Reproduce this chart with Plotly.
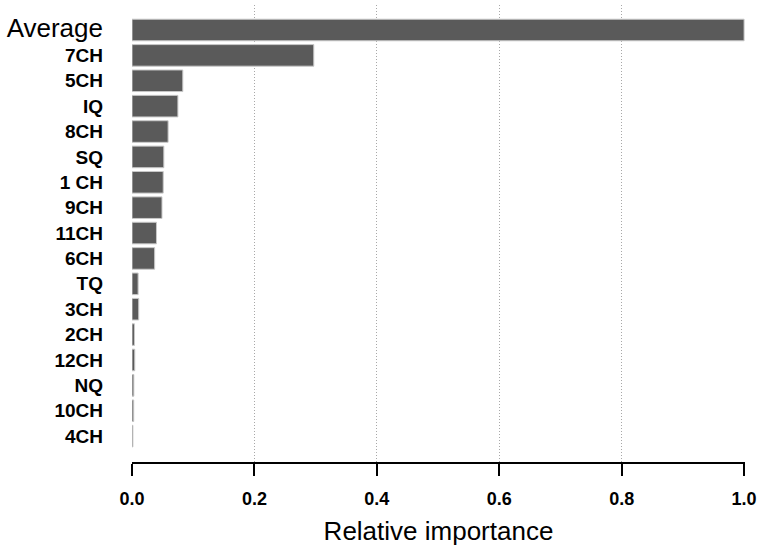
import plotly.graph_objects as go

features = ['Average', '7CH', '5CH', 'IQ', '8CH', 'SQ', '1 CH', '9CH', '11CH', '6CH',
            'TQ', '3CH', '2CH', '12CH', 'NQ', '10CH', '4CH']
importance = [1.0, 0.297, 0.083, 0.075, 0.059, 0.052, 0.051, 0.049, 0.040, 0.037,
              0.010, 0.011, 0.004, 0.0045, 0.003, 0.0028, 0.0015]
x_ticks = [0.0, 0.2, 0.4, 0.6, 0.8, 1.0]

FONT = 'Liberation Sans, Arial, sans-serif'

# first label is drawn bigger and not bold, like in the original figure
tick_text = ['<span style="font-size:26px">%s</span>' % features[0]] + \
            ['<b>%s</b>' % f for f in features[1:]]

fig = go.Figure()
fig.add_trace(go.Bar(x=importance,
                     y=features,
                     orientation='h',
                     width=0.85,
                     marker=dict(color='#5a5a5a', line=dict(color='#c8c8c8', width=1)),
                     showlegend=False))

fig.update_xaxes(range=[0, 1.0015],
                 tickvals=x_ticks,
                 ticktext=['<b>%.1f</b>' % t for t in x_ticks],
                 tickfont=dict(family=FONT, size=18, color='black'),
                 ticks='outside', ticklen=12, tickwidth=2, tickcolor='black',
                 showline=True, linecolor='black', linewidth=2,
                 showgrid=True, gridcolor='#a8a8a8', griddash='1px,2px', gridwidth=1,
                 zeroline=False, automargin=False,
                 ticklabelstandoff=7,
                 title=dict(text='Relative importance', standoff=14,
                            font=dict(family=FONT, size=26, color='black')))

fig.update_yaxes(type='category',
                 categoryorder='array', categoryarray=features,
                 tickvals=features, ticktext=tick_text,
                 range=[len(features) - 1 + 1.02, -0.985],
                 tickfont=dict(family=FONT, size=19, color='black'),
                 ticks='', showline=False, showgrid=False, zeroline=False,
                 automargin=False,
                 ticklabelstandoff=28)

fig.update_layout(width=762, height=548,
                  margin=dict(l=132, r=17, t=5, b=86),
                  plot_bgcolor='white', paper_bgcolor='white',
                  bargap=0.15)

fig.write_html("out.html", config={'displayModeBar': False},
               post_script="document.body.style.margin='0';")
